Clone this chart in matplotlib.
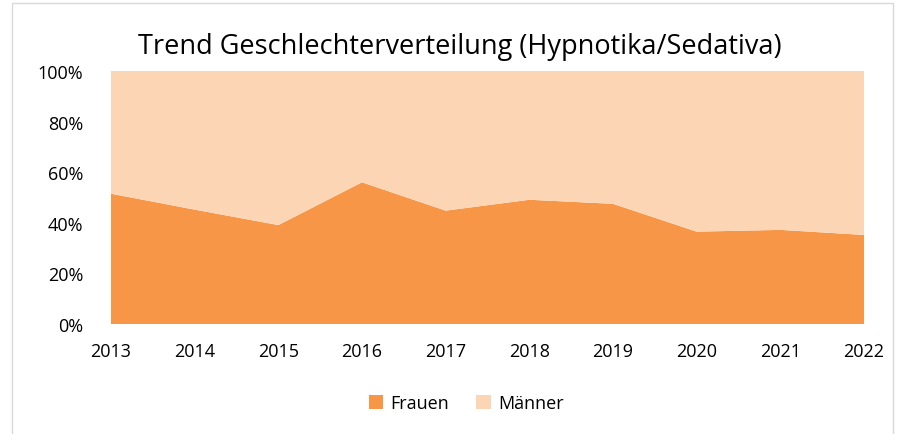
import matplotlib
matplotlib.use("Agg")
import matplotlib.pyplot as plt
from matplotlib.patches import Rectangle, Patch
from matplotlib.ticker import PercentFormatter

years = [2013, 2014, 2015, 2016, 2017, 2018, 2019, 2020, 2021, 2022]
frauen = [51.5, 45.2, 39.1, 56.0, 44.8, 49.1, 47.5, 36.5, 37.2, 35.2]
maenner = [100 - f for f in frauen]

plt.rcParams['font.family'] = ['Open Sans', 'DejaVu Sans']

fig = plt.figure(figsize=(9.05, 4.35), dpi=100)
fig.patch.set_facecolor('white')
fig.add_artist(Rectangle((12/905, -0.01), (893-12)/905, 1 - 4/435 + 0.01,
                         transform=fig.transFigure, fill=False,
                         edgecolor='#D9D9D9', linewidth=1))

ax = fig.add_axes([111/905, 1 - 325/435, (864-111)/905, (325-72)/435])
ax.stackplot(years, frauen, maenner, colors=['#F79646', '#FCD5B5'], linewidth=0)
ax.set_xlim(years[0], years[-1])
ax.set_ylim(0, 100)
ax.set_yticks([0, 20, 40, 60, 80, 100])
ax.yaxis.set_major_formatter(PercentFormatter(decimals=0))
ax.set_xticks(years)
ax.set_xticklabels([str(y) for y in years])
for s in ax.spines.values():
    s.set_visible(False)
ax.tick_params(length=0, labelsize=13, colors='#000000')
ax.tick_params(axis='x', pad=13)
ax.tick_params(axis='y', pad=20)

fig.text(460/905, 1 - 47/435, 'Trend Geschlechterverteilung (Hypnotika/Sedativa)',
         ha='center', va='center', fontsize=19.5)

handles = [Patch(facecolor='#F79646', label='Frauen'),
           Patch(facecolor='#FCD5B5', label='Männer')]
fig.legend(handles=handles, loc='center', bbox_to_anchor=(466/905, 1 - 404/435),
           ncol=2, frameon=False, fontsize=13, handlelength=0.8, handleheight=0.8,
           columnspacing=1.5, handletextpad=0.4)

fig.savefig('out.png', dpi=100)
